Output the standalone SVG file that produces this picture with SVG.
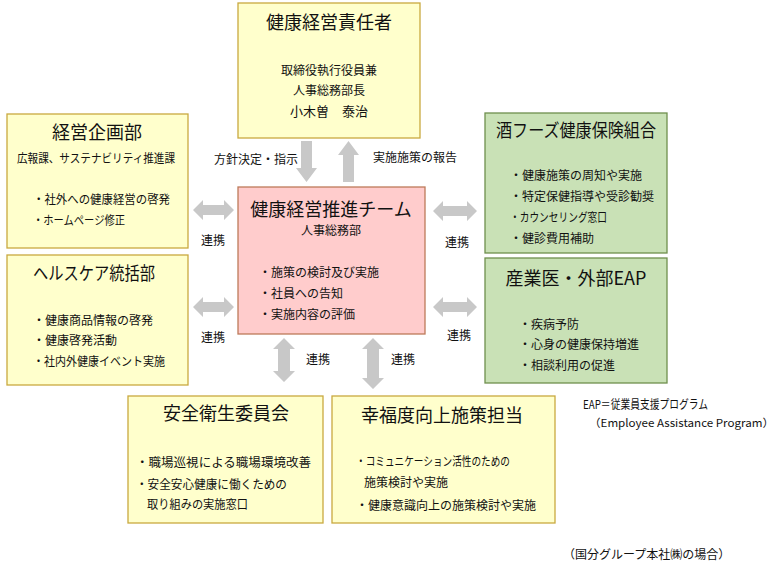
<svg xmlns="http://www.w3.org/2000/svg" width="777" height="566" viewBox="0 0 777 566">
<style>
text{font-family:"Noto Sans CJK JP","Noto Sans",sans-serif;fill:#111}
.y{fill:#FFFFCC;stroke:#C9A93F;stroke-width:1.3}
.p{fill:#FFCCCC;stroke:#BE7A5A;stroke-width:1.3}
.g{fill:#C9E1B6;stroke:#6F8F4E;stroke-width:1.3}
.t{font-size:18px}
.s{font-size:12px}
.a{fill:#C8C8C8}
.c{text-anchor:middle}
</style>
<rect width="777" height="566" fill="#fff"/>
<g id="connectors">
<polygon class="a" points="301,141 312,141 312,168 317,168 306.5,182 296,168 301,168"/>
<polygon class="a" points="343,182 354,182 354,155 359,155 348.5,141 338,155 343,155"/>
<polygon class="a" points="193,210 203,200 203,205 224,205 224,200 234,210 224,220 224,215 203,215 203,220"/>
<polygon class="a" points="193,307 203,297 203,302 224,302 224,297 234,307 224,317 224,312 203,312 203,317"/>
<polygon class="a" points="433,211 443,201 443,206 467,206 467,201 477,211 467,221 467,216 443,216 443,221"/>
<polygon class="a" points="433,307 443,297 443,302 467,302 467,297 477,307 467,317 467,312 443,312 443,317"/>
<polygon class="a" points="284,338 295,349 290,349 290,371 295,371 284,382 273,371 278,371 278,349 273,349"/>
<polygon class="a" points="373,338 384,349 379,349 379,378 384,378 373,389 362,378 367,378 367,349 362,349"/>
<text class="s" x="214" y="164">方針決定・指示</text>
<text class="s" x="373" y="162">実施施策の報告</text>
<text class="s c" x="213" y="245">連携</text>
<text class="s c" x="213" y="342">連携</text>
<text class="s c" x="457" y="247">連携</text>
<text class="s c" x="459" y="340">連携</text>
<text class="s c" x="318" y="364">連携</text>
<text class="s c" x="403" y="364">連携</text>
</g>
<g id="n-top">
<rect class="y" x="238" y="3" width="182" height="135"/>
<text class="t c" x="329" y="29">健康経営責任者</text>
<text class="s c" x="329" y="75">取締役執行役員兼</text>
<text class="s c" x="329" y="95">人事総務部長</text>
<text class="c" x="329" y="116" font-size="13">小木曽　泰治</text>
</g>
<g id="n-plan">
<rect class="y" x="7" y="114" width="181" height="134"/>
<text class="t c" x="97" y="139">経営企画部</text>
<text class="s" x="17" y="163" textLength="158" lengthAdjust="spacingAndGlyphs">広報課、サステナビリティ推進課</text>
<text class="s" x="33" y="204" textLength="137" lengthAdjust="spacingAndGlyphs">・社外への健康経営の啓発</text>
<text class="s" x="33" y="225" textLength="92" lengthAdjust="spacingAndGlyphs">・ホームページ修正</text>
</g>
<g id="n-health">
<rect class="y" x="7" y="255" width="181" height="130"/>
<text class="t" x="33" y="280" textLength="122" lengthAdjust="spacingAndGlyphs">ヘルスケア統括部</text>
<text class="s" x="33" y="325">・健康商品情報の啓発</text>
<text class="s" x="33" y="345">・健康啓発活動</text>
<text class="s" x="33" y="366" textLength="132" lengthAdjust="spacingAndGlyphs">・社内外健康イベント実施</text>
</g>
<g id="n-center">
<rect class="p" x="238" y="187" width="187" height="147"/>
<text class="t c" x="331" y="216">健康経営推進チーム</text>
<text class="s c" x="331" y="235">人事総務部</text>
<text class="s" x="259" y="277">・施策の検討及び実施</text>
<text class="s" x="259" y="298">・社員への告知</text>
<text class="s" x="259" y="319">・実施内容の評価</text>
</g>
<g id="n-kenpo">
<rect class="g" x="485" y="113" width="182" height="140"/>
<text class="t c" x="576" y="137" textLength="160" lengthAdjust="spacingAndGlyphs">酒フーズ健康保険組合</text>
<text class="s" x="510" y="180">・健康施策の周知や実施</text>
<text class="s" x="510" y="201">・特定保健指導や受診勧奨</text>
<text class="s" x="510" y="222" textLength="97" lengthAdjust="spacingAndGlyphs">・カウンセリング窓口</text>
<text class="s" x="510" y="243">・健診費用補助</text>
</g>
<g id="n-eap">
<rect class="g" x="485" y="258" width="182" height="125"/>
<text class="t c" x="576" y="285">産業医・外部EAP</text>
<text class="s" x="519" y="329">・疾病予防</text>
<text class="s" x="519" y="349">・心身の健康保持増進</text>
<text class="s" x="519" y="370">・相談利用の促進</text>
</g>
<g id="n-safety">
<rect class="y" x="128" y="396" width="195" height="127"/>
<text class="t c" x="226" y="420">安全衛生委員会</text>
<text class="s" x="136" y="467" textLength="175" lengthAdjust="spacingAndGlyphs">・職場巡視による職場環境改善</text>
<text class="s" x="136" y="489" textLength="151" lengthAdjust="spacingAndGlyphs">・安全安心健康に働くための</text>
<text class="s" x="147" y="509" textLength="101" lengthAdjust="spacingAndGlyphs">取り組みの実施窓口</text>
</g>
<g id="n-happy">
<rect class="y" x="332" y="396" width="223" height="127"/>
<text class="t c" x="442" y="422">幸福度向上施策担当</text>
<text class="s" x="356" y="466" textLength="154" lengthAdjust="spacingAndGlyphs">・コミュニケーション活性のための</text>
<text class="s" x="364" y="487">施策検討や実施</text>
<text class="s" x="356" y="510">・健康意識向上の施策検討や実施</text>
</g>
<g id="notes">
<text class="s" x="583" y="409" textLength="125" lengthAdjust="spacingAndGlyphs">EAP＝従業員支援プログラム</text>
<text x="589" y="427" font-size="11" textLength="185" lengthAdjust="spacingAndGlyphs">（Employee Assistance Program）</text>
<text class="s" x="563" y="559">（国分グループ本社㈱の場合）</text>
</g>
</svg>
